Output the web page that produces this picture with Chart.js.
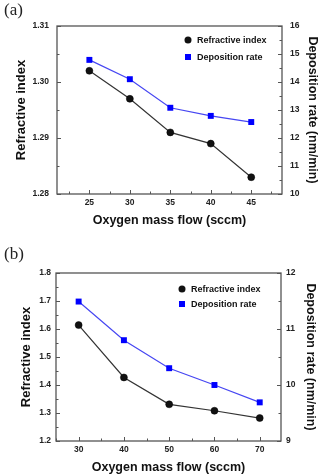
<!DOCTYPE html>
<html>
<head>
<meta charset="utf-8">
<script src="https://cdn.jsdelivr.net/npm/chart.js@4.4.0/dist/chart.umd.min.js"></script>
<style>
  html, body { margin: 0; padding: 0; background: #fff; }
  .panel { position: relative; width: 320px; }
  .tag { position: absolute; left: 4px; font-family: "Liberation Serif", serif; font-size: 17px; color: #222; }
  canvas { display: block; }
</style>
</head>
<body>
<div class="panel"><div class="tag" style="top:0px">(a)</div><canvas id="chartA" width="320" height="240"></canvas></div>
<div class="panel"><div class="tag" style="top:4px">(b)</div><canvas id="chartB" width="320" height="236"></canvas></div>
<script>
// panel (a)
const flowA = [25, 30, 35, 40, 45];
const riA = [1.302, 1.297, 1.291, 1.289, 1.283];
const rateA = [14.79, 14.1, 13.08, 12.79, 12.57];
const flowTicksA = [25, 30, 35, 40, 45];
const riTicksA = [1.28, 1.29, 1.30, 1.31];
const rateTicksA = [10, 11, 12, 13, 14, 15, 16];

// panel (b)
const flowB = [30, 40, 50, 60, 70];
const riB = [1.614, 1.427, 1.331, 1.308, 1.282];
const rateB = [11.49, 10.8, 10.3, 10.0, 9.69];
const flowTicksB = [30, 40, 50, 60, 70];
const riTicksB = [1.2, 1.3, 1.4, 1.5, 1.6, 1.7, 1.8];
const rateTicksB = [9, 10, 11, 12];

const seriesNames = ['Refractive index', 'Deposition rate'];

const FONT = '"Liberation Sans", Arial, sans-serif';
const tickFont = { family: FONT, size: 8.5, weight: 'bold' };
const titleFont = { family: FONT, size: 12.5, weight: 'bold' };
const leftTitleFont = { family: FONT, size: 13, weight: 'bold' };

// frame box + inward major/minor ticks, then the legend inside the plot
const decorPlugin = {
  id: 'decor',
  beforeDatasetsDraw(chart) {
    const ctx = chart.ctx, a = chart.chartArea;
    ctx.save();
    ctx.strokeStyle = '#555';
    ctx.lineWidth = 1.3;
    ctx.strokeRect(a.left, a.top, a.right - a.left, a.bottom - a.top);
    ctx.lineWidth = 1;
    Object.values(chart.scales).forEach(s => {
      const vals = s.ticks.map(t => t.value);
      const step = vals[1] - vals[0];
      const marks = vals.map(v => [v, 4]);
      for (let v = vals[0] - step / 2; v <= s.max + 1e-9; v += step) {
        if (v >= s.min) marks.push([v, 2.5]);
      }
      ctx.beginPath();
      marks.forEach(([v, len]) => {
        const p = Math.round(s.getPixelForValue(v)) + 0.5;
        if (s.axis === 'x') { ctx.moveTo(p, a.bottom); ctx.lineTo(p, a.bottom - len); }
        else if (s.position === 'left') { ctx.moveTo(a.left, p); ctx.lineTo(a.left + len, p); }
        else { ctx.moveTo(a.right, p); ctx.lineTo(a.right - len, p); }
      });
      ctx.stroke();
    });
    ctx.restore();
  },
  afterDraw(chart) {
    const o = chart.options.plugins.decor;
    const ctx = chart.ctx, a = chart.chartArea;
    const x = a.right - o.dx;
    ctx.save();
    ctx.font = 'bold 9px ' + FONT;
    ctx.textBaseline = 'middle';
    chart.data.datasets.forEach((ds, i) => {
      const y = a.top + o.dy[i];
      ctx.fillStyle = ds.pointBackgroundColor;
      ctx.beginPath();
      if (ds.pointStyle === 'rect') ctx.rect(x - 3, y - 3, 6, 6);
      else ctx.arc(x, y, 3.5, 0, Math.PI * 2);
      ctx.fill();
      ctx.fillStyle = '#111';
      ctx.fillText(ds.label, x + 9, y + 0.5);
    });
    ctx.restore();
  }
};

function makeChart(id, flow, ri, rate, xr, xt, yt, y2t, riDigits, lay) {
  const pts = vals => flow.map((f, i) => ({ x: f, y: vals[i] }));
  const fixTicks = list => s => { s.ticks = list.map(v => ({ value: v })); };
  new Chart(document.getElementById(id), {
    type: 'line',
    data: {
      datasets: [{
        label: seriesNames[0],
        data: pts(ri),
        yAxisID: 'y',
        borderColor: '#333',
        borderWidth: 1.2,
        pointStyle: 'circle',
        pointRadius: 3.5,
        pointBackgroundColor: '#111',
        pointBorderColor: '#000',
        pointBorderWidth: 0.5
      }, {
        label: seriesNames[1],
        data: pts(rate),
        yAxisID: 'y2',
        borderColor: '#4646f2',
        borderWidth: 1.2,
        pointStyle: 'rect',
        pointRadius: 4.2,
        pointBackgroundColor: '#0000ff',
        pointBorderColor: '#0000ff',
        pointBorderWidth: 0
      }]
    },
    options: {
      responsive: false,
      animation: false,
      devicePixelRatio: 1,
      layout: { padding: { top: lay.top, left: 0, right: 0, bottom: 0 } },
      plugins: {
        legend: { display: false },
        tooltip: { enabled: false },
        decor: { dx: lay.legDx, dy: lay.legDy }
      },
      scales: {
        x: {
          type: 'linear', min: xr[0], max: xr[1],
          afterBuildTicks: fixTicks(xt),
          afterFit: s => { s.height = lay.xh; },
          grid: { display: false, drawTicks: false },
          border: { display: false },
          ticks: { font: tickFont, color: '#222', padding: 4 },
          title: { display: true, text: 'Oxygen mass flow (sccm)', font: titleFont, color: '#111',
                   padding: { top: 0, bottom: lay.xtPad } }
        },
        y: {
          position: 'left', min: yt[0], max: yt[yt.length - 1],
          afterBuildTicks: fixTicks(yt),
          afterFit: s => { s.width = lay.lw; },
          grid: { display: false, drawTicks: false },
          border: { display: false },
          ticks: { font: tickFont, color: '#222', padding: lay.tp, callback: v => v.toFixed(riDigits) },
          title: { display: true, text: 'Refractive index', font: leftTitleFont, color: '#111',
                   padding: { top: lay.ltPad, bottom: 0 } }
        },
        y2: {
          position: 'right', min: y2t[0], max: y2t[y2t.length - 1],
          afterBuildTicks: fixTicks(y2t),
          afterFit: s => { s.width = lay.rw; },
          grid: { display: false, drawTicks: false },
          border: { display: false },
          ticks: { font: tickFont, color: '#222', padding: lay.tp },
          title: { display: true, text: 'Deposition rate (nm/min)', font: titleFont, color: '#111',
                   padding: { top: lay.rtPad, bottom: 0 } }
        }
      }
    },
    plugins: [decorPlugin]
  });
}

makeChart('chartA', flowA, riA, rateA, [21, 48.8], flowTicksA, riTicksA, rateTicksA, 2,
  { top: 26, xh: 46, lw: 57, rw: 38, tp: 8, xtPad: 12, ltPad: 14, rtPad: 0, legDx: 94, legDy: [14, 31] });
makeChart('chartB', flowB, riB, rateB, [25, 74.7], flowTicksB, riTicksB, rateTicksB, 1,
  { top: 33, xh: 35, lw: 56, rw: 39, tp: 5, xtPad: 1, ltPad: 19, rtPad: 2, legDx: 99, legDy: [16, 31] });
</script>
</body>
</html>
